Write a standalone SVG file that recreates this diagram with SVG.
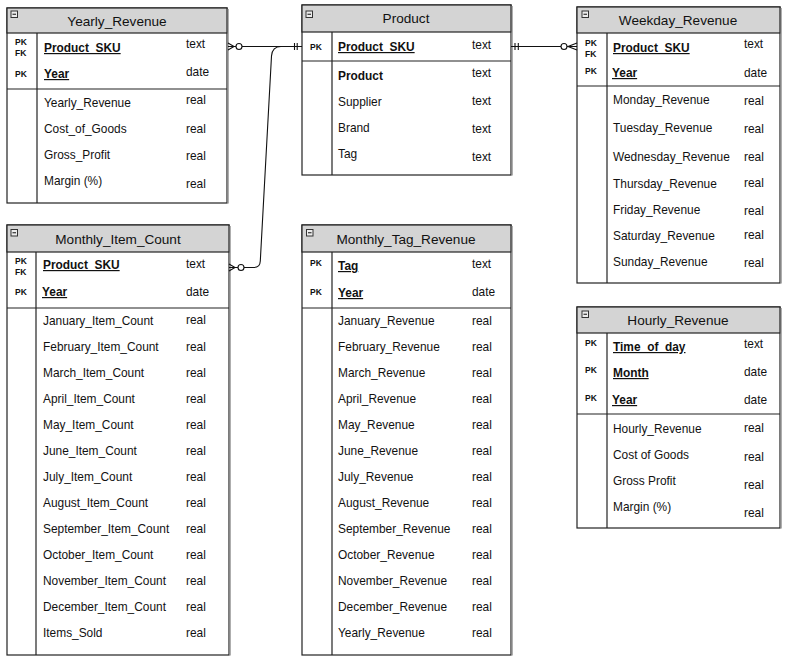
<svg xmlns="http://www.w3.org/2000/svg" width="788" height="663" viewBox="0 0 788 663">
<style>
.box{fill:#fff;stroke:#222;stroke-width:1.2}
.hdr{fill:#d4d4d4;stroke:#222;stroke-width:1.2}
.sh{stroke:#9a9a9a;stroke-width:1.2}
.ln{stroke:#222;stroke-width:1.2;fill:none}
.ic{fill:#ececec;stroke:#333;stroke-width:1}
.icd{stroke:#222;stroke-width:1.1}
.t{font-family:"Liberation Sans",Arial,sans-serif;font-size:13.6px;fill:#111;text-anchor:middle}
.f{font-family:"Liberation Sans",Arial,sans-serif;font-size:11.9px;fill:#111}
.fb{font-family:"Liberation Sans",Arial,sans-serif;font-size:11.9px;fill:#111;font-weight:bold}
.fk{font-family:"Liberation Sans",Arial,sans-serif;font-size:11.9px;fill:#111;font-weight:bold;text-decoration:underline}
.k{font-family:"Liberation Sans",Arial,sans-serif;font-size:8.5px;fill:#111;font-weight:bold}
.c{stroke:#111;stroke-width:1.1;fill:none}
.co{stroke:#111;stroke-width:1.1;fill:#fff}
</style>

<g id="yearly_revenue">
<rect class="box" x="7" y="8" width="220" height="195"/>
<rect class="hdr" x="7" y="8" width="220" height="25"/>
<line class="sh" x1="228.2" y1="9" x2="228.2" y2="203.5"/>
<line class="ln" x1="37" y1="33" x2="37" y2="203"/>
<line class="ln" x1="7" y1="89" x2="227" y2="89"/>
<rect class="ic" x="11" y="11" width="6.5" height="6.5"/>
<line class="icd" x1="12.5" y1="14.25" x2="16" y2="14.25"/>
<text class="t" x="117" y="26">Yearly_Revenue</text>
<text class="k" x="15" y="45">PK</text>
<text class="k" x="15" y="56">FK</text>
<text class="k" x="15" y="77">PK</text>
<text class="fk" x="44" y="52">Product_SKU</text>
<text class="f" x="186" y="48">text</text>
<text class="fk" x="44" y="78">Year</text>
<text class="f" x="186" y="76">date</text>
<text class="f" x="44" y="107">Yearly_Revenue</text>
<text class="f" x="186" y="104">real</text>
<text class="f" x="44" y="133">Cost_of_Goods</text>
<text class="f" x="186" y="133">real</text>
<text class="f" x="44" y="159">Gross_Profit</text>
<text class="f" x="186" y="160">real</text>
<text class="f" x="44" y="185">Margin (%)</text>
<text class="f" x="186" y="188">real</text>
</g>

<g id="product">
<rect class="box" x="302" y="5" width="209" height="170"/>
<rect class="hdr" x="302" y="5" width="209" height="27"/>
<line class="sh" x1="512.2" y1="6" x2="512.2" y2="175.5"/>
<line class="ln" x1="332" y1="32" x2="332" y2="175"/>
<line class="ln" x1="302" y1="61" x2="511" y2="61"/>
<rect class="ic" x="306" y="11" width="6.5" height="6.5"/>
<line class="icd" x1="307.5" y1="14.25" x2="311" y2="14.25"/>
<text class="t" x="406" y="23">Product</text>
<text class="k" x="310" y="50">PK</text>
<text class="fk" x="338" y="51">Product_SKU</text>
<text class="f" x="472" y="49">text</text>
<text class="fb" x="338" y="80">Product</text>
<text class="f" x="472" y="77">text</text>
<text class="f" x="338" y="106">Supplier</text>
<text class="f" x="472" y="105">text</text>
<text class="f" x="338" y="132">Brand</text>
<text class="f" x="472" y="133">text</text>
<text class="f" x="338" y="158">Tag</text>
<text class="f" x="472" y="161">text</text>
</g>

<g id="weekday_revenue">
<rect class="box" x="577" y="7" width="203" height="276"/>
<rect class="hdr" x="577" y="7" width="203" height="26"/>
<line class="sh" x1="781.2" y1="8" x2="781.2" y2="283.5"/>
<line class="ln" x1="607" y1="33" x2="607" y2="283"/>
<line class="ln" x1="577" y1="86" x2="780" y2="86"/>
<rect class="ic" x="582" y="11" width="6.5" height="6.5"/>
<line class="icd" x1="583.5" y1="14.25" x2="587" y2="14.25"/>
<text class="t" x="678" y="25">Weekday_Revenue</text>
<text class="k" x="585" y="46">PK</text>
<text class="k" x="585" y="57">FK</text>
<text class="k" x="585" y="74">PK</text>
<text class="fk" x="613" y="52">Product_SKU</text>
<text class="f" x="744" y="48">text</text>
<text class="fk" x="612" y="77">Year</text>
<text class="f" x="744" y="77">date</text>
<text class="f" x="613" y="104">Monday_Revenue</text>
<text class="f" x="744" y="105">real</text>
<text class="f" x="613" y="132">Tuesday_Revenue</text>
<text class="f" x="744" y="133">real</text>
<text class="f" x="613" y="161">Wednesday_Revenue</text>
<text class="f" x="744" y="161">real</text>
<text class="f" x="613" y="188">Thursday_Revenue</text>
<text class="f" x="744" y="187">real</text>
<text class="f" x="613" y="214">Friday_Revenue</text>
<text class="f" x="744" y="215">real</text>
<text class="f" x="613" y="240">Saturday_Revenue</text>
<text class="f" x="744" y="239">real</text>
<text class="f" x="613" y="266">Sunday_Revenue</text>
<text class="f" x="744" y="267">real</text>
</g>

<g id="monthly_item_count">
<rect class="box" x="7" y="225" width="222" height="430"/>
<rect class="hdr" x="7" y="225" width="222" height="27"/>
<line class="sh" x1="230.2" y1="226" x2="230.2" y2="655.5"/>
<line class="ln" x1="36" y1="252" x2="36" y2="655"/>
<line class="ln" x1="7" y1="308" x2="229" y2="308"/>
<rect class="ic" x="11" y="229.5" width="6.5" height="6.5"/>
<line class="icd" x1="12.5" y1="232.75" x2="16" y2="232.75"/>
<text class="t" x="118" y="244">Monthly_Item_Count</text>
<text class="k" x="15" y="264">PK</text>
<text class="k" x="15" y="275">FK</text>
<text class="k" x="15" y="295">PK</text>
<text class="fk" x="43" y="269">Product_SKU</text>
<text class="f" x="186" y="268">text</text>
<text class="fk" x="42" y="296">Year</text>
<text class="f" x="186" y="296">date</text>
<text class="f" x="43" y="325">January_Item_Count</text>
<text class="f" x="186" y="324">real</text>
<text class="f" x="43" y="351">February_Item_Count</text>
<text class="f" x="186" y="351">real</text>
<text class="f" x="43" y="377">March_Item_Count</text>
<text class="f" x="186" y="377">real</text>
<text class="f" x="43" y="403">April_Item_Count</text>
<text class="f" x="186" y="403">real</text>
<text class="f" x="43" y="429">May_Item_Count</text>
<text class="f" x="186" y="429">real</text>
<text class="f" x="43" y="455">June_Item_Count</text>
<text class="f" x="186" y="455">real</text>
<text class="f" x="43" y="481">July_Item_Count</text>
<text class="f" x="186" y="481">real</text>
<text class="f" x="43" y="507">August_Item_Count</text>
<text class="f" x="186" y="507">real</text>
<text class="f" x="43" y="533">September_Item_Count</text>
<text class="f" x="186" y="533">real</text>
<text class="f" x="43" y="559">October_Item_Count</text>
<text class="f" x="186" y="559">real</text>
<text class="f" x="43" y="585">November_Item_Count</text>
<text class="f" x="186" y="585">real</text>
<text class="f" x="43" y="611">December_Item_Count</text>
<text class="f" x="186" y="611">real</text>
<text class="f" x="43" y="637">Items_Sold</text>
<text class="f" x="186" y="637">real</text>
</g>

<g id="monthly_tag_revenue">
<rect class="box" x="302" y="225" width="209" height="430"/>
<rect class="hdr" x="302" y="225" width="209" height="27"/>
<line class="sh" x1="512.2" y1="226" x2="512.2" y2="655.5"/>
<line class="ln" x1="332" y1="252" x2="332" y2="655"/>
<line class="ln" x1="302" y1="308" x2="511" y2="308"/>
<rect class="ic" x="306.5" y="229.5" width="6.5" height="6.5"/>
<line class="icd" x1="308" y1="232.75" x2="311.5" y2="232.75"/>
<text class="t" x="406" y="244">Monthly_Tag_Revenue</text>
<text class="k" x="310" y="266">PK</text>
<text class="k" x="310" y="295">PK</text>
<text class="fk" x="338" y="270">Tag</text>
<text class="f" x="472" y="268">text</text>
<text class="fk" x="338" y="297">Year</text>
<text class="f" x="472" y="296">date</text>
<text class="f" x="338" y="325">January_Revenue</text>
<text class="f" x="472" y="325">real</text>
<text class="f" x="338" y="351">February_Revenue</text>
<text class="f" x="472" y="351">real</text>
<text class="f" x="338" y="377">March_Revenue</text>
<text class="f" x="472" y="377">real</text>
<text class="f" x="338" y="403">April_Revenue</text>
<text class="f" x="472" y="403">real</text>
<text class="f" x="338" y="429">May_Revenue</text>
<text class="f" x="472" y="429">real</text>
<text class="f" x="338" y="455">June_Revenue</text>
<text class="f" x="472" y="455">real</text>
<text class="f" x="338" y="481">July_Revenue</text>
<text class="f" x="472" y="481">real</text>
<text class="f" x="338" y="507">August_Revenue</text>
<text class="f" x="472" y="507">real</text>
<text class="f" x="338" y="533">September_Revenue</text>
<text class="f" x="472" y="533">real</text>
<text class="f" x="338" y="559">October_Revenue</text>
<text class="f" x="472" y="559">real</text>
<text class="f" x="338" y="585">November_Revenue</text>
<text class="f" x="472" y="585">real</text>
<text class="f" x="338" y="611">December_Revenue</text>
<text class="f" x="472" y="611">real</text>
<text class="f" x="338" y="637">Yearly_Revenue</text>
<text class="f" x="472" y="637">real</text>
</g>

<g id="hourly_revenue">
<rect class="box" x="577" y="307" width="203" height="221"/>
<rect class="hdr" x="577" y="307" width="203" height="26"/>
<line class="sh" x1="781.2" y1="308" x2="781.2" y2="528.5"/>
<line class="ln" x1="607" y1="333" x2="607" y2="528"/>
<line class="ln" x1="577" y1="414" x2="780" y2="414"/>
<rect class="ic" x="582" y="311" width="6.5" height="6.5"/>
<line class="icd" x1="583.5" y1="314.25" x2="587" y2="314.25"/>
<text class="t" x="678" y="325">Hourly_Revenue</text>
<text class="k" x="585" y="346">PK</text>
<text class="k" x="585" y="373">PK</text>
<text class="k" x="585" y="401">PK</text>
<text class="fk" x="613" y="351">Time_of_day</text>
<text class="f" x="744" y="348">text</text>
<text class="fk" x="613" y="377">Month</text>
<text class="f" x="744" y="376">date</text>
<text class="fk" x="612" y="404">Year</text>
<text class="f" x="744" y="404">date</text>
<text class="f" x="613" y="433">Hourly_Revenue</text>
<text class="f" x="744" y="432">real</text>
<text class="f" x="613" y="459">Cost of Goods</text>
<text class="f" x="744" y="461">real</text>
<text class="f" x="613" y="485">Gross Profit</text>
<text class="f" x="744" y="489">real</text>
<text class="f" x="613" y="511">Margin (%)</text>
<text class="f" x="744" y="517">real</text>
</g>

<g id="connectors">
<line class="c" x1="228" y1="46.5" x2="302" y2="46.5"/>
<polyline class="c" points="228,43 234,46.5 228,50"/>
<circle class="co" cx="239" cy="46.5" r="3"/>
<line class="c" x1="294.5" y1="43" x2="294.5" y2="50"/>
<line class="c" x1="297.2" y1="43" x2="297.2" y2="50"/>
<path class="c" d="M229,267.5 L254,267.5 Q260,267.5 260.3,261 L271.5,56 Q272.3,46.5 281,46.5"/>
<polyline class="c" points="229,264 235,267.5 229,271"/>
<circle class="co" cx="241" cy="267.5" r="3"/>
<line class="c" x1="511" y1="46.5" x2="577" y2="46.5"/>
<line class="c" x1="515" y1="43" x2="515" y2="50"/>
<line class="c" x1="518.3" y1="43" x2="518.3" y2="50"/>
<circle class="co" cx="564" cy="46.5" r="3"/>
<polyline class="c" points="577,43 568,46.5 577,50"/>
</g>
</svg>
